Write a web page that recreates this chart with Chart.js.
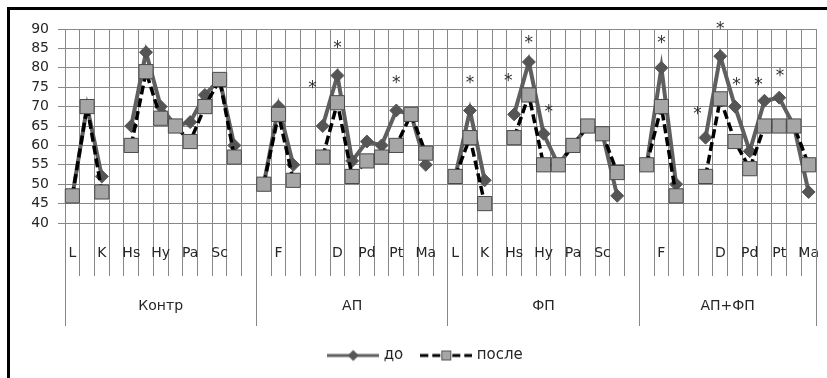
<!DOCTYPE html>
<html><head><meta charset="utf-8">
<script src="https://cdn.jsdelivr.net/npm/chart.js@4.4.0/dist/chart.umd.min.js"></script>
<style>
html,body{margin:0;padding:0;background:#fff}
canvas{display:block}
</style>
</head><body>
<canvas id="c" width="827" height="378"></canvas>
<script>
// ---- data ----
const scaleNames = ['L','F','K','','Hs','D','Hy','Pd','Pa','Pt','Sc','Ma',''];
const groups = ['Контр','АП','ФП','АП+ФП'];
const groupSizes = [13,13,13,12];

const kontrBefore = [47,70,52,null,65,84,70,65,66,73,77,60,null];
const kontrAfter  = [47,70,48,null,60,79,67,65,61,70,77,57,null];
const apBefore    = [50,70,55,null,65,78,56,61,60,69,68,55,null];
const apAfter     = [50,68,51,null,57,71,52,56,57,60,68,58,null];
const fpBefore    = [52,69,51,null,68,81.5,63,55,60,65,63,47,null];
const fpAfter     = [52,62,45,null,62,73,55,55,60,65,63,53,null];
const apfpBefore  = [55,80,50,null,62,83,70,58.5,71.5,72.3,65,48];
const apfpAfter   = [55,70,47,null,52,72,61,54,65,65,65,55];

const yTicksMin = 40, yTicksMax = 90, yStep = 5;

// significance marks "*": group index, position within group, value level
const starGroup = [1,1,1,2,2,2,2,3,3,3,3,3,3];
const starPos   = [3.3,5,9,1,3.6,5,6.35,1,3.45,5,6.1,7.6,9.06];
const starValue = [76.2,86.4,77.4,77.4,78,87.8,70,87.8,69.5,91.3,76.9,76.9,79.3];

// ---- build ----
const categories = [];
groupSizes.forEach(n => { for (let i = 0; i < n; i++) categories.push(scaleNames[i]); });
const before = [...kontrBefore, ...apBefore, ...fpBefore, ...apfpBefore];
const after  = [...kontrAfter, ...apAfter, ...fpAfter, ...apfpAfter];
const groupStart = []; { let s = 0; groupSizes.forEach(n => { groupStart.push(s); s += n; }); }

const FONT = 'DejaVu Sans';
const GRID = '#888888';
const TXT = '#262626';

function legendImg(kind) {
  const c = document.createElement('canvas'); c.width = 52; c.height = 16;
  const g = c.getContext('2d');
  if (kind === 0) {
    g.strokeStyle = '#5f5f5f'; g.lineWidth = 3;
    g.beginPath(); g.moveTo(0, 8); g.lineTo(52, 8); g.stroke();
    g.fillStyle = '#555555';
    g.beginPath(); g.moveTo(26, 2.5); g.lineTo(31.5, 8); g.lineTo(26, 13.5); g.lineTo(20.5, 8); g.closePath(); g.fill();
  } else {
    g.strokeStyle = '#000'; g.lineWidth = 3;
    [[0,8],[12,20],[32,40],[44,52]].forEach(([a,b]) => { g.beginPath(); g.moveTo(a,8); g.lineTo(b,8); g.stroke(); });
    g.fillStyle = '#a6a6a6'; g.fillRect(21, 3, 10, 10);
    g.strokeStyle = '#555'; g.lineWidth = 1; g.strokeRect(21.5, 3.5, 9, 9);
  }
  return c;
}
const legendImgs = [legendImg(0), legendImg(1)];

function align(px, w) { const h = w / 2; return Math.round(px - h) + h; }

const decor = {
  id: 'decor',
  afterLayout(chart) {
    if (chart.legend) { chart.legend.left += 18; chart.legend.right += 18; }
  },
  afterDatasetsDraw(chart) {
    const {ctx, scales: {x, y}} = chart;
    ctx.save();
    ctx.fillStyle = '#333';
    ctx.font = '17px "' + FONT + '"';
    ctx.textAlign = 'center';
    ctx.textBaseline = 'alphabetic';
    starGroup.forEach((g, i) => {
      const px = x.getPixelForValue(groupStart[g] + starPos[i]);
      const py = y.getPixelForValue(starValue[i]);
      ctx.fillText('*', px, py + 10);
    });
    ctx.restore();
  },
  afterDraw(chart) {
    const {ctx, chartArea, scales: {x}} = chart;
    ctx.save();
    // outer frame (top and left edges of the original picture)
    ctx.fillStyle = '#000000';
    ctx.fillRect(7, 7, 820, 3);
    ctx.fillRect(7, 7, 3, 371);
    const half = (x.getPixelForValue(1) - x.getPixelForValue(0)) / 2;
    ctx.strokeStyle = GRID; ctx.lineWidth = 1;
    ctx.fillStyle = TXT;
    ctx.font = '14px "' + FONT + '"';
    ctx.textAlign = 'center'; ctx.textBaseline = 'middle';
    const bottom = chartArea.bottom;
    groups.forEach((name, gi) => {
      const a = x.getPixelForValue(groupStart[gi]) - half;
      const b = x.getPixelForValue(groupStart[gi] + groupSizes[gi] - 1) + half;
      [a, b].forEach(p => {
        const xp = align(p, 1);
        ctx.beginPath(); ctx.moveTo(xp, bottom); ctx.lineTo(xp, bottom + 103); ctx.stroke();
      });
      ctx.fillText(name, (a + b) / 2, bottom + 83);
    });
    ctx.restore();
  }
};

new Chart(document.getElementById('c'), {
  type: 'line',
  data: {
    labels: categories,
    datasets: [
      {
        label: 'до', data: before, order: 2,
        borderColor: '#5f5f5f', borderWidth: 4,
        pointStyle: 'rectRot', pointRadius: 6.5, pointHoverRadius: 6.5,
        pointBackgroundColor: '#555555', pointBorderColor: '#555555', pointBorderWidth: 1,
        spanGaps: false, tension: 0
      },
      {
        label: 'после', data: after, order: 1,
        borderColor: '#000000', borderWidth: 3.5, borderDash: [9, 4],
        pointStyle: 'rect', pointRadius: 10, pointHoverRadius: 10,
        pointBackgroundColor: '#a6a6a6', pointBorderColor: '#4a4a4a', pointBorderWidth: 1,
        spanGaps: false, tension: 0
      }
    ]
  },
  options: {
    responsive: false, animation: false,
    layout: { padding: { left: 0, right: 10, top: 29, bottom: 5 } },
    scales: {
      x: {
        type: 'category', offset: true,
        grid: { offset: true, color: GRID, lineWidth: 1, tickLength: 53, drawTicks: true },
        border: { color: GRID },
        ticks: {
          autoSkip: false, maxRotation: 0, minRotation: 0, padding: -31,
          color: TXT, font: { family: FONT, size: 14 },
          callback: function (v, i) { return i % 2 === 0 ? this.getLabelForValue(v) : ''; }
        },
        afterFit: s => { s.height = 105; }
      },
      y: {
        min: yTicksMin, max: yTicksMax,
        ticks: { stepSize: yStep, autoSkip: false, padding: 9, color: TXT, font: { family: FONT, size: 14 } },
        grid: { color: GRID, lineWidth: 1, tickLength: 7 },
        border: { color: GRID },
        afterFit: s => { s.width = 65; }
      }
    },
    plugins: {
      tooltip: { enabled: false },
      legend: {
        position: 'bottom',
        labels: {
          usePointStyle: true, pointStyleWidth: 46, padding: 20,
          color: TXT, font: { family: FONT, size: 15 },
          generateLabels: chart => chart.data.datasets.map((ds, i) => ({
            text: ds.label, pointStyle: legendImgs[i], datasetIndex: i, hidden: false,
            lineWidth: 0, strokeStyle: 'rgba(0,0,0,0)', fillStyle: 'rgba(0,0,0,0)', fontColor: TXT
          }))
        }
      }
    }
  },
  plugins: [decor]
});
</script>
</body></html>
